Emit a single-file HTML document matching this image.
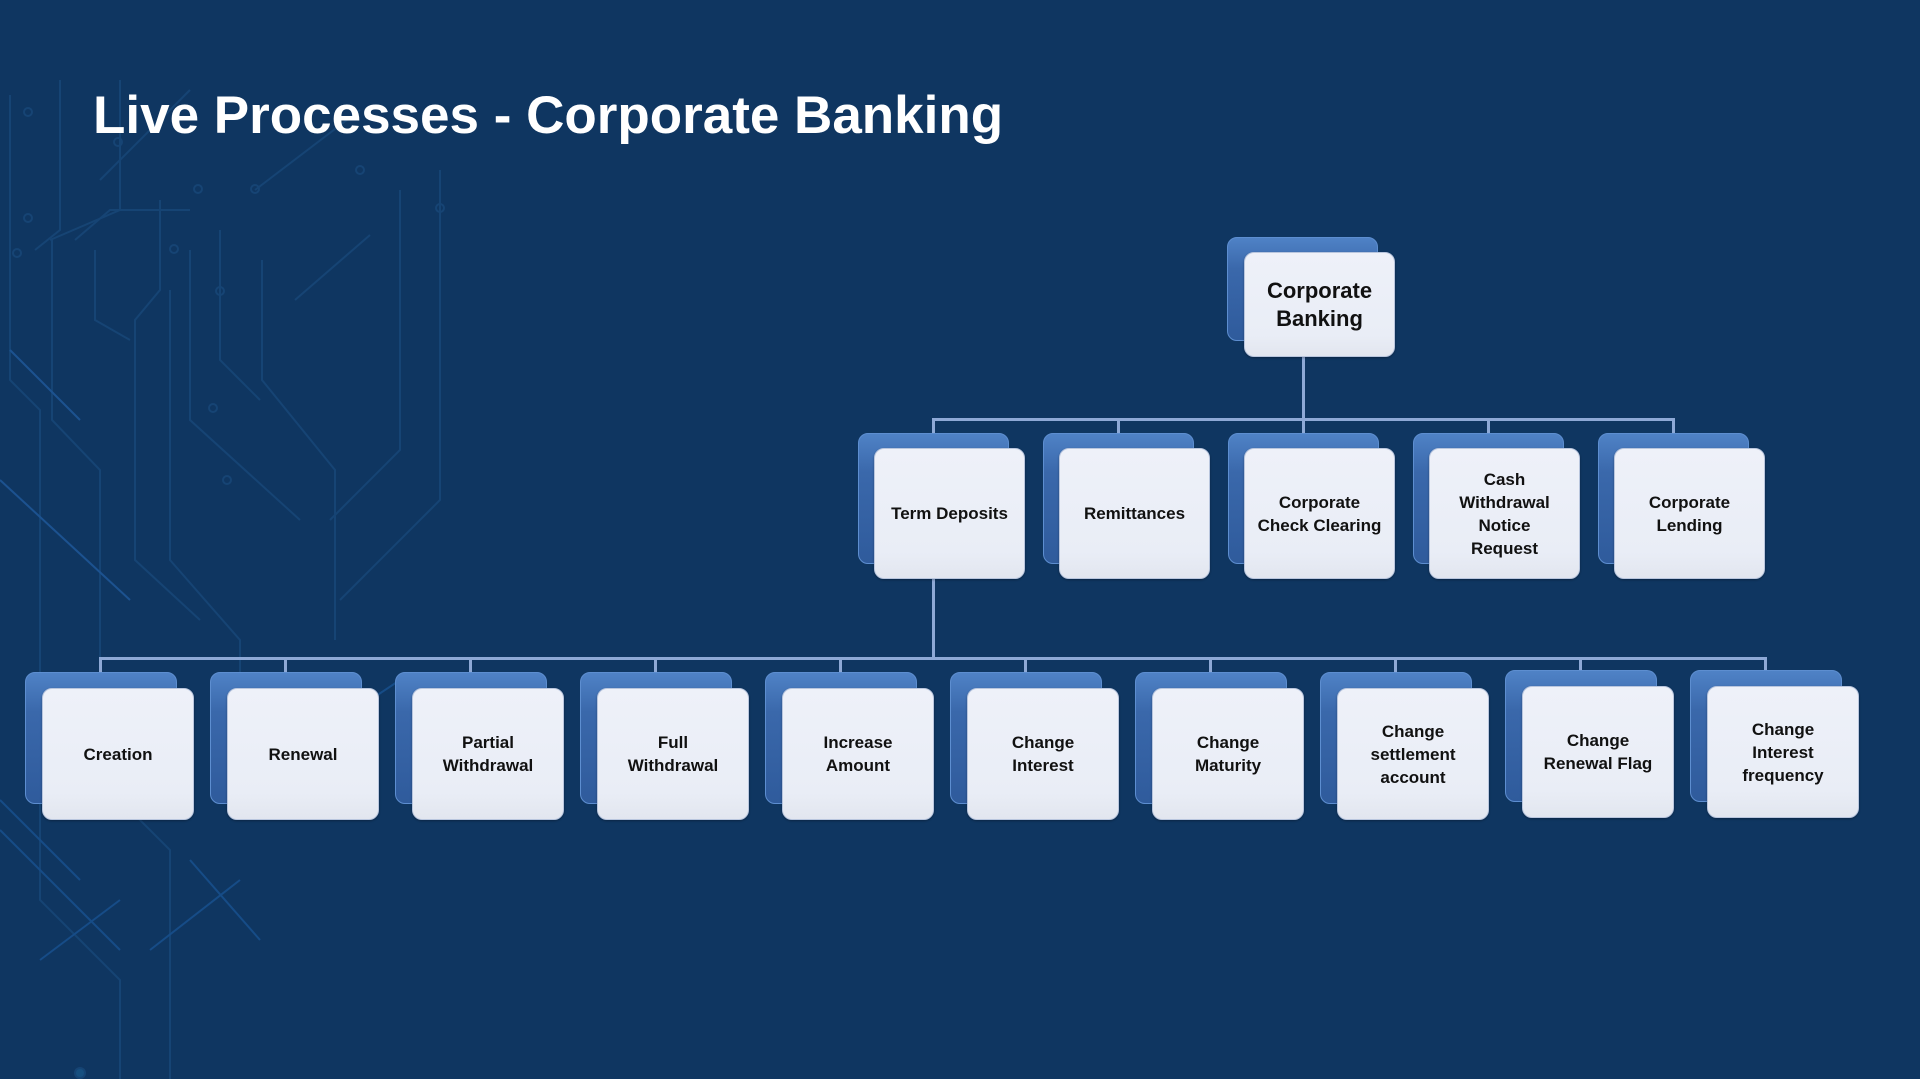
<!DOCTYPE html>
<html><head><meta charset="utf-8"><style>
html,body{margin:0;padding:0}
body{width:1920px;height:1079px;background:#0f3661;position:relative;overflow:hidden;font-family:"Liberation Sans",sans-serif}
.title{position:absolute;left:93px;top:84px;font-size:53px;font-weight:bold;color:#fff;white-space:nowrap;line-height:64px}
.bk{position:absolute;border-radius:10px;background:linear-gradient(180deg,#4f82c6 0%,#3a68ab 30%,#2f5b9c 100%);border:1px solid #5d8ed0;box-sizing:border-box}
.fr{position:absolute;border-radius:10px;background:linear-gradient(180deg,#eef1f9 0%,#e9edf6 80%,#e2e6ef 100%);border:1px solid #b9c6de;box-sizing:border-box;display:flex;align-items:center;justify-content:center;text-align:center;font-weight:bold;color:#111;font-size:17px;line-height:23px;box-shadow:0 1px 2px rgba(0,0,0,.3)}
.ln{position:absolute;background:#8ea9d6}
</style></head><body>
<svg width="520" height="1079" style="position:absolute;left:0;top:0" fill="none" stroke="#1d5288" stroke-width="2" opacity="0.5">
<path d="M10 95 V380 L40 410 V900 L120 980 V1079"/>
<path d="M60 80 V230 L35 250"/>
<path d="M120 80 V210 L50 240"/>
<path d="M52 240 V420 L100 470 V780 L170 850 V1079"/>
<path d="M100 180 L190 90"/>
<path d="M75 240 L110 210 H190"/>
<path d="M95 250 V320 L130 340"/>
<path d="M160 200 V290 L135 320 V560 L200 620"/>
<path d="M170 290 V560 L240 640 V700"/>
<path d="M190 250 V420 L300 520"/>
<path d="M220 230 V360 L260 400"/>
<path d="M255 190 L360 110"/>
<path d="M262 260 V380 L335 470 V640"/>
<path d="M295 300 L370 235"/>
<path d="M400 190 V450 L330 520"/>
<path d="M440 170 V500 L340 600"/>
<path d="M0 480 L130 600" stroke="#2a6fbf"/>
<path d="M10 350 L80 420" stroke="#2a6fbf"/>
<path d="M0 800 L80 880 M0 830 L120 950 M190 860 L260 940" stroke="#1e62ad"/>
<path d="M40 960 L120 900 M150 950 L240 880 M280 760 L400 680" stroke="#1e62ad"/>
<circle cx="28" cy="112" r="4"/><circle cx="28" cy="218" r="4"/><circle cx="118" cy="142" r="4"/><circle cx="198" cy="189" r="4"/><circle cx="255" cy="189" r="4"/><circle cx="360" cy="170" r="4"/><circle cx="440" cy="208" r="4"/><circle cx="17" cy="253" r="4"/><circle cx="174" cy="249" r="4"/><circle cx="220" cy="291" r="4"/><circle cx="213" cy="408" r="4"/><circle cx="227" cy="480" r="4"/><circle cx="80" cy="1073" r="5" fill="#1f6aa0"/>
</svg>
<div class="title">Live Processes - Corporate Banking</div>

<div class="ln" style="left:1302px;top:357px;width:3px;height:63px"></div>
<div class="ln" style="left:932px;top:418px;width:742px;height:3px"></div>
<div class="ln" style="left:932px;top:418px;width:3px;height:16px"></div>
<div class="ln" style="left:1117px;top:418px;width:3px;height:16px"></div>
<div class="ln" style="left:1302px;top:418px;width:3px;height:16px"></div>
<div class="ln" style="left:1487px;top:418px;width:3px;height:16px"></div>
<div class="ln" style="left:1672px;top:418px;width:3px;height:16px"></div>
<div class="ln" style="left:932px;top:565px;width:3px;height:94px"></div>
<div class="ln" style="left:99px;top:657px;width:1668px;height:3px"></div>
<div class="ln" style="left:99px;top:657px;width:3px;height:16px"></div>
<div class="ln" style="left:284px;top:657px;width:3px;height:16px"></div>
<div class="ln" style="left:469px;top:657px;width:3px;height:16px"></div>
<div class="ln" style="left:654px;top:657px;width:3px;height:16px"></div>
<div class="ln" style="left:839px;top:657px;width:3px;height:16px"></div>
<div class="ln" style="left:1024px;top:657px;width:3px;height:16px"></div>
<div class="ln" style="left:1209px;top:657px;width:3px;height:16px"></div>
<div class="ln" style="left:1394px;top:657px;width:3px;height:16px"></div>
<div class="ln" style="left:1579px;top:657px;width:3px;height:16px"></div>
<div class="ln" style="left:1764px;top:657px;width:3px;height:16px"></div>

<div class="bk" style="left:1227px;top:237px;width:151px;height:104px"></div>
<div class="fr" style="left:1244px;top:252px;width:151px;height:105px;font-size:22px;line-height:28px">Corporate<br>Banking</div>

<div class="bk" style="left:858px;top:433px;width:151px;height:131px"></div>
<div class="fr" style="left:874px;top:448px;width:151px;height:131px">Term Deposits</div>
<div class="bk" style="left:1043px;top:433px;width:151px;height:131px"></div>
<div class="fr" style="left:1059px;top:448px;width:151px;height:131px">Remittances</div>
<div class="bk" style="left:1228px;top:433px;width:151px;height:131px"></div>
<div class="fr" style="left:1244px;top:448px;width:151px;height:131px">Corporate<br>Check Clearing</div>
<div class="bk" style="left:1413px;top:433px;width:151px;height:131px"></div>
<div class="fr" style="left:1429px;top:448px;width:151px;height:131px">Cash<br>Withdrawal<br>Notice<br>Request</div>
<div class="bk" style="left:1598px;top:433px;width:151px;height:131px"></div>
<div class="fr" style="left:1614px;top:448px;width:151px;height:131px">Corporate<br>Lending</div>

<div class="bk" style="left:25px;top:672px;width:152px;height:132px"></div>
<div class="fr" style="left:42px;top:688px;width:152px;height:132px">Creation</div>
<div class="bk" style="left:210px;top:672px;width:152px;height:132px"></div>
<div class="fr" style="left:227px;top:688px;width:152px;height:132px">Renewal</div>
<div class="bk" style="left:395px;top:672px;width:152px;height:132px"></div>
<div class="fr" style="left:412px;top:688px;width:152px;height:132px">Partial<br>Withdrawal</div>
<div class="bk" style="left:580px;top:672px;width:152px;height:132px"></div>
<div class="fr" style="left:597px;top:688px;width:152px;height:132px">Full<br>Withdrawal</div>
<div class="bk" style="left:765px;top:672px;width:152px;height:132px"></div>
<div class="fr" style="left:782px;top:688px;width:152px;height:132px">Increase<br>Amount</div>
<div class="bk" style="left:950px;top:672px;width:152px;height:132px"></div>
<div class="fr" style="left:967px;top:688px;width:152px;height:132px">Change<br>Interest</div>
<div class="bk" style="left:1135px;top:672px;width:152px;height:132px"></div>
<div class="fr" style="left:1152px;top:688px;width:152px;height:132px">Change<br>Maturity</div>
<div class="bk" style="left:1320px;top:672px;width:152px;height:132px"></div>
<div class="fr" style="left:1337px;top:688px;width:152px;height:132px">Change<br>settlement<br>account</div>
<div class="bk" style="left:1505px;top:670px;width:152px;height:132px"></div>
<div class="fr" style="left:1522px;top:686px;width:152px;height:132px">Change<br>Renewal Flag</div>
<div class="bk" style="left:1690px;top:670px;width:152px;height:132px"></div>
<div class="fr" style="left:1707px;top:686px;width:152px;height:132px">Change<br>Interest<br>frequency</div>
</body></html>
